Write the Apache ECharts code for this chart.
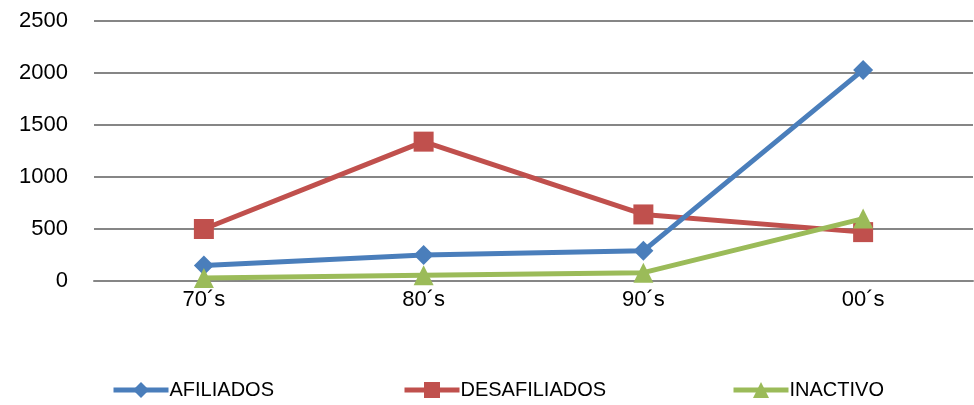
<!DOCTYPE html>
<html>
<head>
<meta charset="utf-8">
<script src="https://cdn.jsdelivr.net/npm/echarts@6/dist/echarts.min.js"></script>
<style>
  html, body { margin: 0; padding: 0; background: #fff; }
  #chart { width: 974px; height: 405px; }
</style>
</head>
<body>
<div id="chart"></div>
<script>
var decades = ['70´s', '80´s', '90´s', '00´s'];
var afiliados = [150, 250, 290, 2030];
var desafiliados = [500, 1340, 640, 470];
var inactivo = [30, 55, 80, 600];

var fontName = 'Liberation Sans';

var chart = echarts.init(document.getElementById('chart'));

function legendAt(name, left) {
    return {
        data: [name],
        left: left,
        top: 380,
        padding: 0,
        itemWidth: 55,
        itemHeight: 20,
        itemGap: 0,
        lineStyle: { width: 5 },
        textStyle: { fontFamily: fontName, fontSize: 20, color: '#000', padding: [0, 0, 0, -4] }
    };
}

var option = {
    animation: false,
    legend: [
        legendAt('AFILIADOS', 111),
        legendAt('DESAFILIADOS', 402),
        legendAt('INACTIVO', 731)
    ],
    grid: { left: 94, right: 1, top: 21, bottom: 124 },
    xAxis: {
        type: 'category',
        data: decades,
        boundaryGap: true,
        axisLine: { show: true, lineStyle: { color: '#868686', width: 2 } },
        axisTick: { show: false },
        axisLabel: { fontFamily: fontName, fontSize: 22, color: '#000', margin: 8 }
    },
    yAxis: {
        type: 'value',
        min: 0,
        max: 2500,
        interval: 500,
        axisLine: { show: false },
        axisTick: { show: false },
        splitLine: { lineStyle: { color: '#868686', width: 2 } },
        axisLabel: {
            fontFamily: fontName, fontSize: 22, color: '#000', margin: 26,
            formatter: function (v) { return String(v); }
        }
    },
    series: [{
        name: 'AFILIADOS',
        type: 'line',
        data: afiliados,
        z: 3,
        symbol: 'diamond',
        symbolSize: 20,
        lineStyle: { width: 5, color: '#4a7ebb' },
        itemStyle: { color: '#4a7ebb' }
    }, {
        name: 'DESAFILIADOS',
        type: 'line',
        data: desafiliados,
        z: 2,
        symbol: 'rect',
        symbolSize: 20,
        lineStyle: { width: 5, color: '#c0504d' },
        itemStyle: { color: '#c0504d' }
    }, {
        name: 'INACTIVO',
        type: 'line',
        data: inactivo,
        z: 4,
        symbol: 'triangle',
        symbolSize: 20,
        lineStyle: { width: 5, color: '#9bbb59' },
        itemStyle: { color: '#9bbb59' }
    }]
};

chart.setOption(option);
</script>
</body>
</html>
